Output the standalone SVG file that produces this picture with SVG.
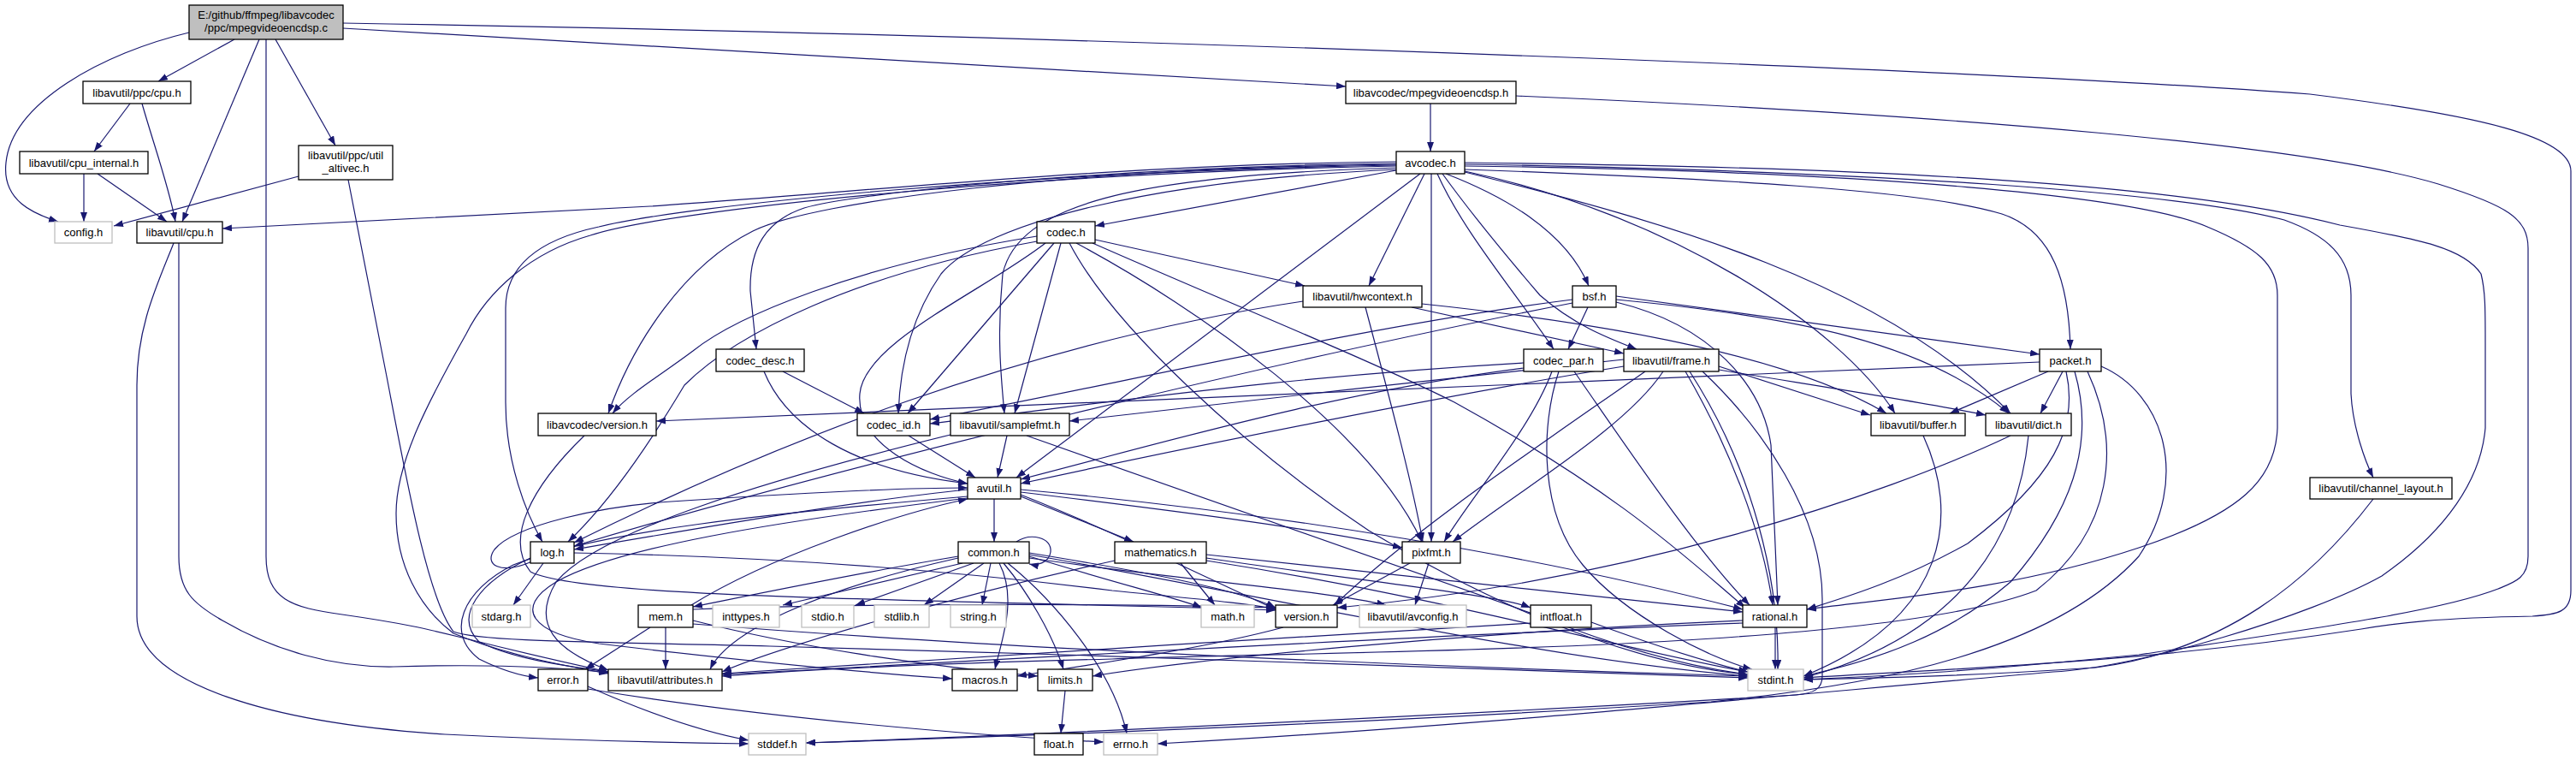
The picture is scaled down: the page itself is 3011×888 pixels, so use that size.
<svg xmlns="http://www.w3.org/2000/svg" width="3011" height="888" viewBox="0 0 3011 888">
<style>
.n rect{fill:#ffffff;stroke:#000000;stroke-width:1.3}
.g rect{fill:#ffffff;stroke:#bfbfbf;stroke-width:1.3}
.m rect{fill:#bfbfbf;stroke:#000000;stroke-width:1.3}
text{font-family:"Liberation Sans",Arial,sans-serif;font-size:13px;text-anchor:middle;fill:#000000}
#edges path{fill:none;stroke:#191970;stroke-width:1.2;marker-end:url(#a)}
</style>
<defs>
<marker id="a" viewBox="0 0 11 8" refX="11" refY="4" markerWidth="11" markerHeight="8" markerUnits="userSpaceOnUse" orient="auto"><path d="M0,0L11,4L0,8z" fill="#191970"/></marker>
</defs>
<rect x="0" y="0" width="3011" height="888" fill="#ffffff"/>
<g id="edges">
<path d="M221,38 C120,62 14,120 7,190 C2,235 40,250 68,259"/>
<path d="M274,46 L185,95"/>
<path d="M303,46 L213,259"/>
<path d="M311,46 L311,650 C311,700 340,710 400,718 C470,728 500,735 540,745 C600,760 660,774 711,785"/>
<path d="M322,46 L392,170"/>
<path d="M401,33 L1573,101"/>
<path d="M401,27 C1200,40 2300,80 2700,110 C2900,135 3005,160 3005,200 L3005,690 C3005,715 2990,718 2960,720 C2850,722 2800,728 2760,735 C2500,775 2300,780 2108,792"/>
<path d="M152,121 L110,177"/>
<path d="M166,121 C180,170 198,220 205,259"/>
<path d="M98,203 L98,259"/>
<path d="M114,203 L195,259"/>
<path d="M203,284 C185,330 160,380 160,450 L160,720 C160,800 320,845 520,858 C680,866 800,868 875,869"/>
<path d="M209,284 L209,650 C209,690 225,705 260,725 C320,760 390,780 460,779 C560,776 640,778 711,786"/>
<path d="M349,206 L133,264"/>
<path d="M407,210 L452,440 C475,560 500,700 530,738 C560,750 700,750 900,755 C1300,765 1800,785 2043,792"/>
<path d="M1672,121 L1672,177"/>
<path d="M1772,112 C2300,135 2700,170 2850,215 C2930,240 2955,255 2955,290 L2955,650 C2955,675 2940,680 2920,688 C2850,715 2700,735 2500,765 C2300,785 2200,790 2108,794"/>
<path d="M1632,189 C1300,192 1000,225 760,241 L260,267"/>
<path d="M1632,199 L1280,264"/>
<path d="M1632,191 C1300,195 1000,225 940,243 C895,258 876,290 877,340 L884,408"/>
<path d="M1632,192 C1250,197 950,235 880,270 C800,310 740,400 711,483"/>
<path d="M1632,193 C1200,200 800,240 700,265 C630,280 591,310 591,360 L591,470 C591,540 615,600 634,633"/>
<path d="M1632,194 C1200,202 780,245 690,275 C620,295 570,340 545,390 C500,470 463,540 463,600 C463,660 490,710 530,740 C590,765 660,778 711,787"/>
<path d="M1634,198 C1350,210 1150,260 1100,320 C1065,370 1052,430 1050,483"/>
<path d="M1634,196 C1320,205 1190,240 1172,320 C1165,390 1170,440 1174,483"/>
<path d="M1660,203 L1188,558"/>
<path d="M1665,203 L1600,334"/>
<path d="M1673,203 L1673,633"/>
<path d="M1680,203 C1710,270 1770,340 1816,408"/>
<path d="M1686,203 C1720,250 1770,310 1800,345 C1840,380 1880,395 1913,408"/>
<path d="M1690,203 C1760,230 1830,270 1857,334"/>
<path d="M1712,198 C2000,208 2250,222 2340,250 C2400,270 2418,330 2420,408"/>
<path d="M1712,201 C1950,260 2200,330 2350,483"/>
<path d="M1712,200 C1950,250 2150,380 2215,483"/>
<path d="M1712,192 C2200,200 2550,225 2670,257 C2720,275 2748,300 2748,345 L2748,460 C2750,500 2765,540 2774,558"/>
<path d="M1712,190 C2200,195 2550,215 2735,263 C2830,280 2880,290 2900,320 C2905,340 2905,360 2905,400 L2905,500 C2900,560 2860,620 2784,673 C2700,720 2500,780 2400,785 C2000,820 1700,850 1353,869"/>
<path d="M1712,194 C2200,200 2500,230 2580,265 C2640,290 2662,310 2662,345 L2662,500 C2660,560 2620,600 2500,640 C2350,690 2200,700 2112,712"/>
<path d="M1212,276 C1000,310 860,370 810,410 C770,440 735,460 716,483"/>
<path d="M1212,282 C1000,320 860,390 800,450 C770,500 720,580 664,633"/>
<path d="M1222,284 C1150,340 1010,400 1005,460 C1000,520 1080,555 1131,565"/>
<path d="M1232,284 L1061,483"/>
<path d="M1240,284 L1186,483"/>
<path d="M1258,284 C1400,360 1600,500 1662,633"/>
<path d="M1250,284 C1300,380 1450,520 1600,620 C1800,740 1950,780 2043,788"/>
<path d="M1277,284 C1450,360 1600,420 1700,470 C1900,580 1980,660 2040,710"/>
<path d="M1280,280 L1525,334"/>
<path d="M915,434 L1010,483"/>
<path d="M893,434 C920,500 1000,550 1131,565"/>
<path d="M1781,424 C1500,440 1300,470 1087,495"/>
<path d="M1781,430 C1550,460 1350,520 1193,560"/>
<path d="M1814,434 C1790,500 1720,580 1688,633"/>
<path d="M1840,434 C1900,520 1980,640 2045,707"/>
<path d="M1822,434 C1800,500 1800,600 1850,660 C1900,720 2000,770 2048,782"/>
<path d="M1856,359 L1833,408"/>
<path d="M1889,346 L2384,414"/>
<path d="M1889,350 C2100,370 2250,400 2348,483"/>
<path d="M1889,353 C2000,380 2060,450 2070,520 L2078,707"/>
<path d="M1838,350 C1600,380 1300,450 1087,490"/>
<path d="M1838,354 C1500,420 1000,540 671,638"/>
<path d="M1650,359 L1898,413"/>
<path d="M1662,355 C1900,380 2100,420 2205,483"/>
<path d="M1523,352 C1200,400 900,520 671,634"/>
<path d="M1596,359 C1620,450 1650,560 1663,633"/>
<path d="M1898,428 C1700,460 1400,520 1193,565"/>
<path d="M1898,420 C1700,440 1450,470 1250,492"/>
<path d="M1944,434 C1900,500 1780,570 1698,633"/>
<path d="M2009,428 L2186,485"/>
<path d="M2009,432 C2150,455 2250,470 2321,485"/>
<path d="M1970,434 C2020,520 2060,620 2072,707"/>
<path d="M1923,434 C1800,520 1650,620 1560,707"/>
<path d="M1975,434 C2050,550 2080,680 2078,782"/>
<path d="M1990,434 C2060,500 2130,600 2130,700 L2130,790 C2130,805 2120,810 2100,812 C1800,830 1300,855 942,868"/>
<path d="M2384,423 L767,492"/>
<path d="M2394,434 L2279,483"/>
<path d="M2411,434 L2385,483"/>
<path d="M2415,434 C2430,500 2400,560 2300,635 C2220,680 2150,700 2112,712"/>
<path d="M2425,434 C2450,520 2420,600 2350,680 C2280,740 2200,770 2108,790"/>
<path d="M2440,434 C2480,520 2470,620 2380,690 C2200,760 1600,760 1300,770 C1100,775 950,782 844,790"/>
<path d="M2456,428 C2530,460 2560,560 2500,650 C2400,760 2200,800 2000,820 C1600,845 1200,860 942,868"/>
<path d="M683,509 C620,570 590,630 620,668 C680,700 1100,700 1491,713"/>
<path d="M2371,509 C2360,620 2300,740 2108,792"/>
<path d="M2350,509 C2200,580 1900,680 1563,710"/>
<path d="M2248,509 C2290,600 2280,720 2108,790"/>
<path d="M2774,583 C2700,680 2600,760 2450,780 C2300,790 2200,792 2108,794"/>
<path d="M1162,583 L1162,633"/>
<path d="M1193,580 L1325,633"/>
<path d="M1193,575 C1400,600 1550,620 1639,640"/>
<path d="M1131,572 C1000,585 800,620 671,642"/>
<path d="M1131,580 C900,600 700,620 600,660 C540,690 520,740 560,770 C590,785 610,790 629,792"/>
<path d="M1193,572 C1500,600 1800,650 2037,712"/>
<path d="M1193,578 C1300,620 1420,680 1491,712"/>
<path d="M1131,582 C900,610 720,640 650,680 C600,710 620,740 700,752 C850,770 1000,785 1113,793"/>
<path d="M1188,633 C1205,622 1230,628 1228,645 C1226,658 1212,661 1203,659"/>
<path d="M1120,650 C1000,670 880,695 810,709"/>
<path d="M1125,658 L915,707"/>
<path d="M1138,658 L1000,707"/>
<path d="M1150,658 L1080,707"/>
<path d="M1158,658 L1148,707"/>
<path d="M1168,658 C1190,700 1170,750 1163,782"/>
<path d="M1173,658 C1200,690 1230,740 1243,782"/>
<path d="M1178,658 C1230,700 1300,780 1317,857"/>
<path d="M1203,650 C1300,680 1380,700 1405,710"/>
<path d="M1203,646 C1350,670 1450,690 1491,710"/>
<path d="M1203,648 C1500,700 1800,770 2043,790"/>
<path d="M1120,652 C950,690 850,740 830,782"/>
<path d="M1203,652 C1400,680 1550,690 1620,707"/>
<path d="M1380,658 L1420,707"/>
<path d="M1410,648 C1700,680 1900,700 2037,715"/>
<path d="M1410,652 C1600,680 1750,695 1789,710"/>
<path d="M1410,655 C1700,700 1900,760 2043,785"/>
<path d="M1303,655 C1100,700 900,760 844,785"/>
<path d="M1670,658 L1654,707"/>
<path d="M1648,658 L1558,707"/>
<path d="M635,658 L600,707"/>
<path d="M622,656 C585,672 565,660 578,642 C600,615 700,590 800,585 C950,575 1050,570 1131,570"/>
<path d="M620,652 C560,680 530,720 560,750 C600,770 660,778 711,785"/>
<path d="M671,646 C900,650 1100,665 1300,690 C1400,700 1460,705 1491,712"/>
<path d="M808,707 C900,650 1050,600 1131,583"/>
<path d="M778,733 L778,782"/>
<path d="M760,733 L684,782"/>
<path d="M810,725 C950,760 1100,780 1213,790"/>
<path d="M810,729 C1200,760 1700,780 2043,790"/>
<path d="M810,712 C1000,705 1300,705 1491,710"/>
<path d="M2075,733 L2075,782"/>
<path d="M2037,725 C1700,740 1400,770 1277,790"/>
<path d="M2037,728 C1600,745 1100,775 844,788"/>
<path d="M1860,727 C1950,760 2000,775 2043,785"/>
<path d="M1789,728 C1500,745 1100,770 844,787"/>
<path d="M687,802 C750,830 820,855 875,865"/>
<path d="M687,805 C900,840 1150,860 1290,867"/>
<path d="M1500,733 C1400,760 1250,780 1189,790"/>
<path d="M1245,807 L1240,857"/>
<path d="M1177,509 L1166,558"/>
<path d="M1111,508 C900,560 700,620 650,680 C620,730 650,760 711,783"/>
<path d="M1200,509 C1400,580 1600,650 1800,720 C1900,760 1980,780 2043,788"/>
<path d="M1062,509 L1140,558"/>
</g>
<g id="main" class="m"><rect x="221" y="6" width="180" height="40"/><text x="311" y="21.5">E:/github/ffmpeg/libavcodec</text><text x="311" y="36.5">/ppc/mpegvideoencdsp.c</text></g>
<g id="ppc_cpu" class="n"><rect x="97" y="95" width="126" height="26"/><text x="160" y="112.5">libavutil/ppc/cpu.h</text></g>
<g id="cpu_internal" class="n"><rect x="23" y="177" width="150" height="26"/><text x="98" y="194.5">libavutil/cpu_internal.h</text></g>
<g id="config" class="g"><rect x="64" y="259" width="67" height="25"/><text x="97.5" y="276">config.h</text></g>
<g id="cpu" class="n"><rect x="160" y="259" width="100" height="25"/><text x="210" y="276">libavutil/cpu.h</text></g>
<g id="util_altivec" class="n"><rect x="349" y="170" width="110" height="40"/><text x="404" y="185.5">libavutil/ppc/util</text><text x="404" y="200.5">_altivec.h</text></g>
<g id="mpegvideoencdsp" class="n"><rect x="1573" y="95" width="199" height="26"/><text x="1672.5" y="112.5">libavcodec/mpegvideoencdsp.h</text></g>
<g id="avcodec" class="n"><rect x="1632" y="177" width="80" height="26"/><text x="1672" y="194.5">avcodec.h</text></g>
<g id="codec" class="n"><rect x="1212" y="259" width="68" height="25"/><text x="1246" y="276">codec.h</text></g>
<g id="hwcontext" class="n"><rect x="1523" y="334" width="139" height="25"/><text x="1592.5" y="351">libavutil/hwcontext.h</text></g>
<g id="bsf" class="n"><rect x="1838" y="334" width="51" height="25"/><text x="1863.5" y="351">bsf.h</text></g>
<g id="codec_desc" class="n"><rect x="837" y="408" width="103" height="26"/><text x="888.5" y="425.5">codec_desc.h</text></g>
<g id="codec_par" class="n"><rect x="1781" y="408" width="93" height="26"/><text x="1827.5" y="425.5">codec_par.h</text></g>
<g id="frame" class="n"><rect x="1898" y="408" width="111" height="26"/><text x="1953.5" y="425.5">libavutil/frame.h</text></g>
<g id="packet" class="n"><rect x="2384" y="408" width="72" height="26"/><text x="2420" y="425.5">packet.h</text></g>
<g id="lavc_version" class="n"><rect x="629" y="483" width="138" height="26"/><text x="698" y="500.5">libavcodec/version.h</text></g>
<g id="codec_id" class="n"><rect x="1002" y="483" width="85" height="26"/><text x="1044.5" y="500.5">codec_id.h</text></g>
<g id="samplefmt" class="n"><rect x="1111" y="483" width="139" height="26"/><text x="1180.5" y="500.5">libavutil/samplefmt.h</text></g>
<g id="buffer" class="n"><rect x="2187" y="483" width="110" height="26"/><text x="2242" y="500.5">libavutil/buffer.h</text></g>
<g id="dict" class="n"><rect x="2321" y="483" width="100" height="26"/><text x="2371" y="500.5">libavutil/dict.h</text></g>
<g id="channel_layout" class="n"><rect x="2700" y="558" width="166" height="25"/><text x="2783" y="575">libavutil/channel_layout.h</text></g>
<g id="avutil" class="n"><rect x="1131" y="558" width="62" height="25"/><text x="1162" y="575">avutil.h</text></g>
<g id="log" class="n"><rect x="620" y="633" width="51" height="25"/><text x="645.5" y="650">log.h</text></g>
<g id="common" class="n"><rect x="1120" y="633" width="83" height="25"/><text x="1161.5" y="650">common.h</text></g>
<g id="mathematics" class="n"><rect x="1303" y="633" width="107" height="25"/><text x="1356.5" y="650">mathematics.h</text></g>
<g id="pixfmt" class="n"><rect x="1639" y="633" width="68" height="25"/><text x="1673" y="650">pixfmt.h</text></g>
<g id="stdarg" class="g"><rect x="552" y="707" width="68" height="26"/><text x="586" y="724.5">stdarg.h</text></g>
<g id="mem" class="n"><rect x="746" y="707" width="64" height="26"/><text x="778" y="724.5">mem.h</text></g>
<g id="inttypes" class="g"><rect x="833" y="707" width="78" height="26"/><text x="872" y="724.5">inttypes.h</text></g>
<g id="stdio" class="g"><rect x="937" y="707" width="61" height="26"/><text x="967.5" y="724.5">stdio.h</text></g>
<g id="stdlib" class="g"><rect x="1022" y="707" width="64" height="26"/><text x="1054" y="724.5">stdlib.h</text></g>
<g id="string" class="g"><rect x="1111" y="707" width="65" height="26"/><text x="1143.5" y="724.5">string.h</text></g>
<g id="math" class="g"><rect x="1404" y="707" width="62" height="26"/><text x="1435" y="724.5">math.h</text></g>
<g id="version" class="n"><rect x="1491" y="707" width="72" height="26"/><text x="1527" y="724.5">version.h</text></g>
<g id="avconfig" class="g"><rect x="1589" y="707" width="125" height="26"/><text x="1651.5" y="724.5">libavutil/avconfig.h</text></g>
<g id="intfloat" class="n"><rect x="1789" y="707" width="71" height="26"/><text x="1824.5" y="724.5">intfloat.h</text></g>
<g id="rational" class="n"><rect x="2037" y="707" width="75" height="26"/><text x="2074.5" y="724.5">rational.h</text></g>
<g id="error" class="n"><rect x="629" y="782" width="58" height="25"/><text x="658" y="799">error.h</text></g>
<g id="attributes" class="n"><rect x="711" y="782" width="133" height="25"/><text x="777.5" y="799">libavutil/attributes.h</text></g>
<g id="macros" class="n"><rect x="1113" y="782" width="76" height="25"/><text x="1151" y="799">macros.h</text></g>
<g id="limits" class="n"><rect x="1213" y="782" width="64" height="25"/><text x="1245" y="799">limits.h</text></g>
<g id="stdint" class="g"><rect x="2043" y="782" width="65" height="25"/><text x="2075.5" y="799">stdint.h</text></g>
<g id="stddef" class="g"><rect x="875" y="857" width="67" height="25"/><text x="908.5" y="874">stddef.h</text></g>
<g id="float" class="n"><rect x="1209" y="857" width="57" height="25"/><text x="1237.5" y="874">float.h</text></g>
<g id="errno" class="g"><rect x="1290" y="857" width="63" height="25"/><text x="1321.5" y="874">errno.h</text></g>
</svg>
